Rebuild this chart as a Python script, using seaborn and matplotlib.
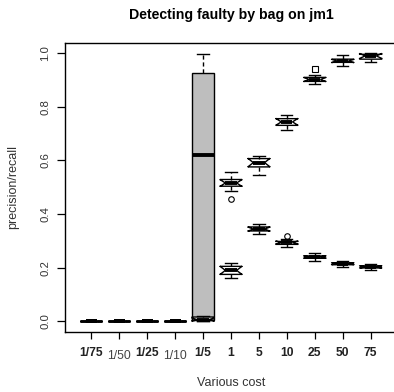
import numpy as np
import pandas as pd
import matplotlib
matplotlib.use('Agg')
import matplotlib.pyplot as plt
import matplotlib.transforms as mtransforms
import seaborn as sns

plt.rcParams['font.family'] = ['Liberation Sans', 'DejaVu Sans']

# Misclassification cost ratios on the x axis
costs = ['1/75', '1/50', '1/25', '1/10', '1/5', '1', '5', '10', '25', '50', '75']

# Precision boxes: lower whisker, Q1, median, Q3, upper whisker, outlier
prec_lo  = [0, 0, 0, 0, 0.000, 0.485, 0.325, 0.277, 0.224, 0.203, 0.190]
prec_q1  = [0, 0, 0, 0, 0.005, 0.504, 0.337, 0.287, 0.235, 0.211, 0.199]
prec_med = [0, 0, 0, 0, 0.620, 0.516, 0.344, 0.294, 0.240, 0.215, 0.203]
prec_q3  = [0, 0, 0, 0, 0.928, 0.529, 0.352, 0.298, 0.244, 0.218, 0.207]
prec_hi  = [0, 0, 0, 0, 0.996, 0.557, 0.362, 0.306, 0.256, 0.226, 0.215]
prec_out = [np.nan, np.nan, np.nan, np.nan, np.nan, 0.458, np.nan, 0.317, np.nan, np.nan, np.nan]

# Recall boxes
rec_lo  = [0, 0, 0, 0, 0.000, 0.163, 0.547, 0.713, 0.887, 0.952, 0.968]
rec_q1  = [0, 0, 0, 0, 0.004, 0.175, 0.576, 0.731, 0.895, 0.966, 0.978]
rec_med = [0, 0, 0, 0, 0.006, 0.190, 0.592, 0.744, 0.902, 0.971, 0.990]
rec_q3  = [0, 0, 0, 0, 0.016, 0.205, 0.607, 0.756, 0.910, 0.978, 0.996]
rec_hi  = [0, 0, 0, 0, 0.019, 0.218, 0.617, 0.769, 0.918, 0.993, 1.000]
rec_out = [np.nan, np.nan, np.nan, np.nan, np.nan, np.nan, np.nan, np.nan, 0.940, np.nan, np.nan]


def box_sample(lo, q1, med, q3, hi, out):
    # 9 points -> quartiles land exactly on q1 / med / q3
    vals = [lo, lo, q1, q1, med, q3, q3, hi, hi]
    if not np.isnan(out):
        if out < lo:
            vals[0] = out
        else:
            vals[-1] = out
    return vals


def to_frame(lo, q1, med, q3, hi, out):
    rows = []
    for i, c in enumerate(costs):
        for v in box_sample(lo[i], q1[i], med[i], q3[i], hi[i], out[i]):
            rows.append({'cost': c, 'value': v})
    return pd.DataFrame(rows)


prec = to_frame(prec_lo, prec_q1, prec_med, prec_q3, prec_hi, prec_out)
rec = to_frame(rec_lo, rec_q1, rec_med, rec_q3, rec_hi, rec_out)

fig = plt.figure(figsize=(3.94, 3.92), dpi=100)
ax = fig.add_axes([0.165, 0.153, 0.8426, 0.7385])

common = dict(x='cost', y='value', order=costs, width=0.8, saturation=1,
              linecolor='black', linewidth=1.0, whis=1.5,
              medianprops={'linewidth': 2.8, 'color': 'black'},
              whiskerprops={'linestyle': (0, (3, 2))})

# grey (un-notched) box for precision at 1/5
sns.boxplot(data=prec[prec['cost'] == '1/5'], color='#bebebe', ax=ax, **common)
sns.boxplot(data=prec[prec['cost'] != '1/5'], color='white', notch=True, ax=ax,
            flierprops={'marker': 'o', 'markersize': 4, 'markerfacecolor': 'none',
                        'markeredgecolor': 'black', 'markeredgewidth': 0.8},
            **common)
sns.boxplot(data=rec, color='white', notch=True, ax=ax,
            flierprops={'marker': 's', 'markersize': 4, 'markerfacecolor': 'none',
                        'markeredgecolor': 'black', 'markeredgewidth': 0.8},
            **common)

ax.set_xlim(-0.94, 10.94)
ax.set_ylim(-0.04, 1.04)
for s in ax.spines.values():
    s.set_color('black')
    s.set_linewidth(1.0)

ax.set_yticks([0, 0.2, 0.4, 0.6, 0.8, 1.0])
ax.set_yticklabels(['0.0', '0.2', '0.4', '0.6', '0.8', '1.0'], rotation=90, va='center')
ax.tick_params(axis='y', length=5.5, width=0.9, pad=5, labelsize=8.2, labelcolor='#333333')

ax.set_xticks(range(len(costs)))
ax.set_xticklabels(costs)
ax.tick_params(axis='x', length=5, width=0.9, pad=5.5, labelsize=8.7)
for i, lab in enumerate(ax.get_xticklabels()):
    if i in (1, 3):
        lab.set_color('#444444')
        lab.set_transform(lab.get_transform() +
                          mtransforms.ScaledTranslation(0, -2.4 / 72, fig.dpi_scale_trans))
    else:
        lab.set_fontweight('bold')
        lab.set_color('#222222')

ax.set_xlabel('Various cost', fontsize=9, color='#333333')
ax.set_ylabel('precision/recall', fontsize=9, color='#333333')
ax.xaxis.set_label_coords(0.5, -0.155)
ax.yaxis.set_label_coords(-0.137, 0.5)
ax.set_title('Detecting faulty by bag on jm1', fontsize=10.2, fontweight='bold', pad=17)

fig.savefig('out.png', dpi=100)
